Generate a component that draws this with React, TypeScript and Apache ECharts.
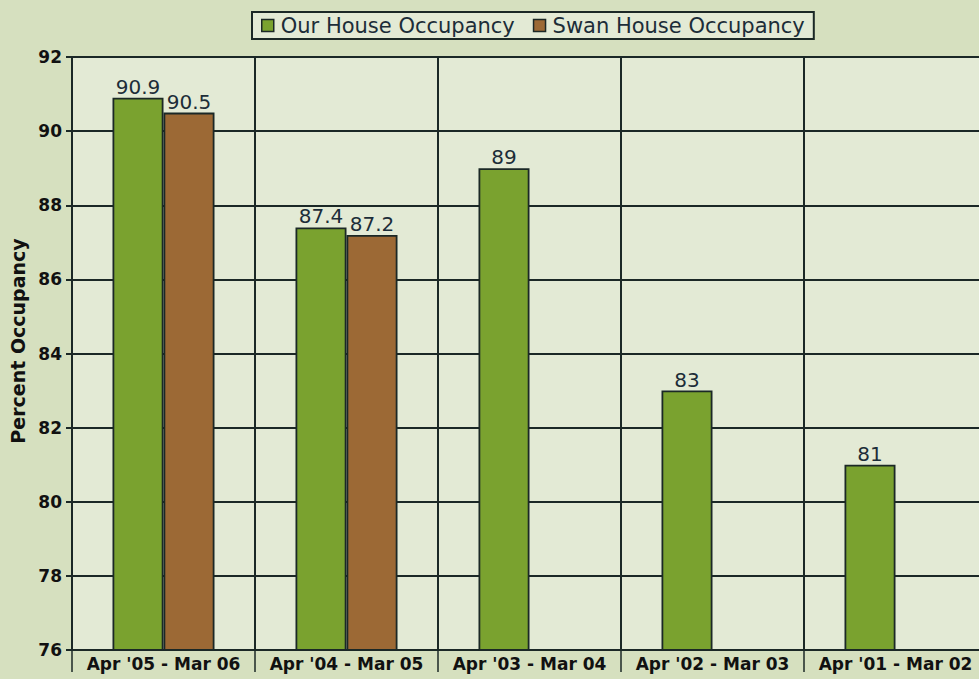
import React, { useEffect, useRef } from "react";
import * as echarts from "echarts";

const categories = ["Apr '05 - Mar 06", "Apr '04 - Mar 05", "Apr '03 - Mar 04", "Apr '02 - Mar 03", "Apr '01 - Mar 02"];
const ourHouse = [90.9, 87.4, 89, 83, 81];
const swanHouse: (number | null)[] = [90.5, 87.2, null, null, null];
const seriesNames = ["Our House Occupancy", "Swan House Occupancy"];
const yTitle = "Percent Occupancy";
const yMin = 76;
const yMax = 92;
const yStep = 2;

const DARK = "#1b2826";
const FONT = "'DejaVu Sans', sans-serif";

export default function App() {
  const ref = useRef<HTMLDivElement>(null);
  useEffect(() => {
    if (!ref.current) return;
    document.body.style.overflow = "hidden";
    const chart = echarts.init(ref.current, null, { renderer: "svg" });
    const label = {
      show: true,
      position: "top" as const,
      distance: 1,
      color: "#1c2d38",
      fontSize: 20,
      fontFamily: FONT,
    };
    chart.setOption({
      animation: false,
      backgroundColor: "#d6e0bf",
      textStyle: { fontFamily: FONT },
      legend: {
        top: 12,
        left: 252,
        icon: "rect",
        itemWidth: 12,
        itemHeight: 12,
        itemGap: 18,
        padding: [3, 9, 3, 9],
        borderColor: DARK,
        borderWidth: 2,
        backgroundColor: "#e3ead5",
        textStyle: { fontSize: 21, color: "#1c2d38", fontFamily: FONT, padding: [0, 0, 0, 2] },
        data: seriesNames.map((n) => ({ name: n, itemStyle: { borderColor: DARK, borderWidth: 1.5 } })),
      },
      graphic: [
        {
          type: "text",
          x: 18,
          y: 341,
          rotation: Math.PI / 2,
          style: {
            text: yTitle,
            fontSize: 19,
            fontWeight: "bold",
            fill: "#111",
            fontFamily: FONT,
            align: "center",
            verticalAlign: "middle",
          },
        },
      ],
      grid: {
        left: 72,
        top: 57,
        right: 0,
        height: 593,
        show: true,
        backgroundColor: "#e3ead5",
        borderWidth: 0,
      },
      xAxis: {
        type: "category",
        data: categories,
        axisLine: { show: true, lineStyle: { color: DARK, width: 2 } },
        axisTick: { show: true, interval: 0, length: 22, lineStyle: { color: DARK, width: 1.5 } },
        splitLine: { show: true, interval: 0, lineStyle: { color: DARK, width: 2 } },
        axisLabel: {
          interval: 0,
          color: "#111",
          fontSize: 17,
          fontWeight: "bold",
          fontFamily: FONT,
          margin: 5,
        },
      },
      yAxis: {
        type: "value",
        min: yMin,
        max: yMax,
        interval: yStep,
        axisLine: { show: true, lineStyle: { color: DARK, width: 2 } },
        axisTick: { show: true, length: 6, lineStyle: { color: DARK, width: 2 } },
        splitLine: { show: true, lineStyle: { color: DARK, width: 2 } },
        axisLabel: { color: "#111", fontSize: 17, fontWeight: "bold", fontFamily: FONT, margin: 10 },
      },
      series: [
        {
          name: seriesNames[0],
          type: "bar",
          data: ourHouse,
          barWidth: 51,
          barGap: "0%",
          itemStyle: { color: "#7aa22f", borderColor: DARK, borderWidth: 1.8 },
          label,
          z: 3,
        },
        {
          name: seriesNames[1],
          type: "bar",
          data: swanHouse,
          barWidth: 51,
          barGap: "0%",
          itemStyle: { color: "#9c6935", borderColor: DARK, borderWidth: 1.8 },
          label,
          z: 3,
        },
      ],
    });
    return () => chart.dispose();
  }, []);
  return <div ref={ref} style={{ width: 987, height: 679, position: "fixed", left: 0, top: 0 }} />;
}
